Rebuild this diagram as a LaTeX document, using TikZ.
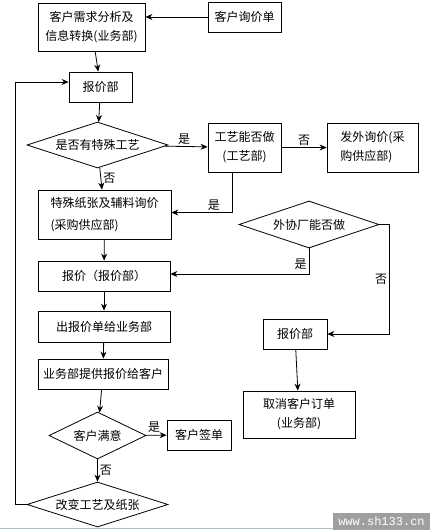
\documentclass[tikz,border=0pt]{standalone}
\usepackage{fontspec}
\setmainfont{Noto Sans CJK SC}
\newfontfamily\sitefont{Liberation Mono}
\usetikzlibrary{shapes,arrows.meta,positioning,calc}

\begin{document}
\begin{tikzpicture}[x=1pt, y=-1pt,
    box/.style={draw, line width=0.8pt, inner sep=0pt, align=center, font=\fontsize{12}{19}\selectfont},
    dia/.style={draw, diamond, aspect=3, line width=0.8pt, inner sep=0pt, font=\fontsize{12}{15}\selectfont},
    arr/.style={-{Stealth[length=7pt, width=6pt]}, line width=0.8pt},
    lbl/.style={font=\fontsize{12}{14}\selectfont, inner sep=2pt}]
    \useasboundingbox (0,0) rectangle (430,530);
    \fill[white] (0,0) rectangle (430,530);

    % Sales side
    \node[box, minimum width=107pt, minimum height=48pt] (req) at (91.5,27) {客户需求分析及\\信息转换(业务部)};
    \node[box, minimum width=73pt, minimum height=30pt] (inquiry) at (244.5,17) {客户询价单};
    \node[box, minimum width=63pt, minimum height=30pt] (quote1) at (100.5,87) {报价部};

    % Special process check
    \node[dia, minimum width=141pt, minimum height=46pt] (special) at (97.5,145) {是否有特殊工艺};
    \node[box, minimum width=73pt, minimum height=49pt] (craft) at (244.5,147.5) {工艺能否做\\(工艺部)};
    \node[box, minimum width=91pt, minimum height=49pt, align=left] (outsrc) at (372.5,147.5) {发外询价(采\\购供应部)};
    \node[box, minimum width=133pt, minimum height=49pt, align=left, font=\fontsize{12}{22}\selectfont] (paper) at (104.5,214.5) {特殊纸张及辅料询价\\(采购供应部)};

    % Outside factory
    \node[dia, minimum width=140pt, minimum height=47pt] (partner) at (309,224.5) {外协厂能否做};
    \node[box, minimum width=132pt, minimum height=30pt] (quote2) at (104,276) {报价（报价部）};
    \node[box, minimum width=64pt, minimum height=30pt] (quote3) at (295,334) {报价部};
    \node[box, minimum width=112pt, minimum height=47pt] (cancel) at (299,414.5) {取消客户订单\\(业务部)};

    % Back to the customer
    \node[box, minimum width=132pt, minimum height=31pt] (issue) at (104,326.5) {出报价单给业务部};
    \node[box, minimum width=130pt, minimum height=30pt] (provide) at (103,374) {业务部提供报价给客户};
    \node[dia, minimum width=97pt, minimum height=47pt] (happy) at (97.5,435.5) {客户满意};
    \node[box, minimum width=64pt, minimum height=30pt] (sign) at (199,435) {客户签单};
    \node[dia, minimum width=141pt, minimum height=45pt] (change) at (97.5,504.5) {改变工艺及纸张};

    % Arrows
    \draw[arr] (inquiry.west) -- (inquiry.west -| req.east);
    \draw[arr] (req) -- (quote1);
    \draw[arr] (quote1) -- (special);
    \draw[arr] (special) -- node[lbl, above, pos=0.45] {是} (craft);
    \draw[arr] (craft) -- node[lbl, above] {否} (outsrc);
    \draw[arr] (special) -- node[lbl, right] {否} (paper);
    \draw[arr] ([xshift=-12.5pt]craft.south) |- node[lbl, above, pos=0.65] {是} ([yshift=2pt]paper.east);
    \draw[arr] (paper) -- (quote2);
    \draw[arr] (partner.south) |- node[lbl, left, pos=0.3] {是} ([yshift=2pt]quote2.east);
    \draw[arr] (partner.east) -- ([xshift=10pt]partner.east) |- node[lbl, left, pos=0.25] {否} (quote3.east);
    \draw[arr] (quote3) -- (cancel);
    \draw[arr] (quote2) -- (issue);
    \draw[arr] (issue) -- (provide);
    \draw[arr] (provide) -- (happy);
    \draw[arr] (happy) -- node[lbl, above, pos=0.4] {是} (sign);
    \draw[arr] (happy) -- node[lbl, right] {否} (change);
    \draw[arr] (change.west) -- ([xshift=-11pt]change.west) |- ([yshift=5pt]quote1.west);

    % Site mark
    \draw[cyan!40!gray!60, line width=0.8pt] (0,528) -- (333,528);
    \node[fill=gray!75, text=white, minimum width=97pt, minimum height=17pt, inner sep=0pt,
          font=\sitefont\fontsize{12}{14}\selectfont] (site) at (381.5,521.5) {www.sh133.cn};
\end{tikzpicture}
\end{document}
